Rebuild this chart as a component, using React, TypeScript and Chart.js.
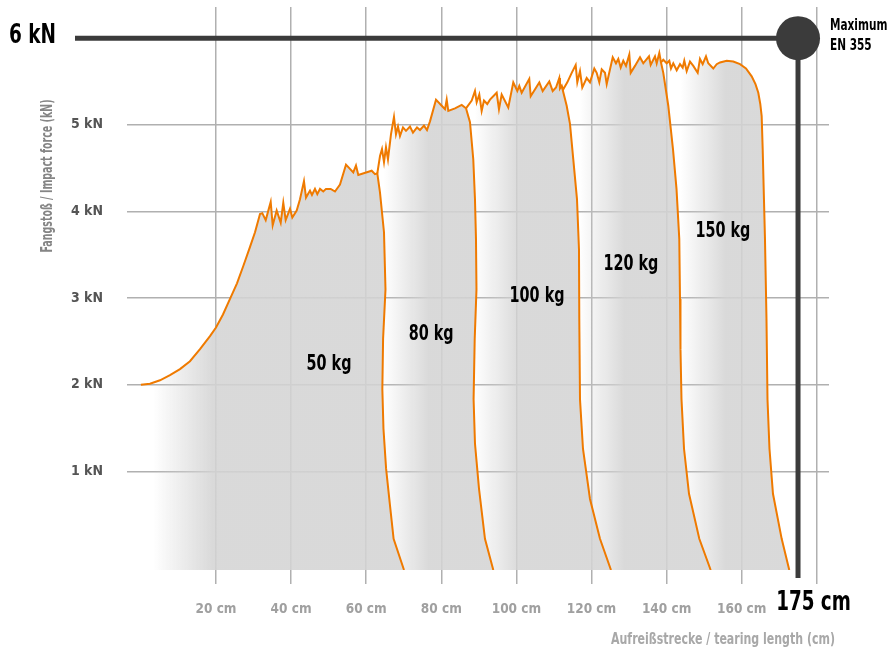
import React, { useEffect, useRef } from 'react';
import { Chart, registerables } from 'chart.js';

Chart.register(...registerables);

type P = [number, number];

// ---- axes ----
const X_MIN = -3.7;
const X_MAX = 183.25;
const Y_MIN = -0.14;
const Y_MAX = 6.36;
const X_TICKS = [20, 40, 60, 80, 100, 120, 140, 160, 180];
const X_LABELED_MAX = 160;
const Y_TICKS = [1, 2, 3, 4, 5];
const X_TITLE = 'Aufreißstrecke / tearing length (cm)';
const Y_TITLE = 'Fangstoß / Impact force (kN)';

// ---- limits (EN 355) ----
const MAX_FORCE = 6;
const MAX_LENGTH = 175;
const LIMIT_TEXT = ['Maximum', 'EN 355'];

// ---- series labels ----
const MASSES = ['50 kg', '80 kg', '100 kg', '120 kg', '150 kg'];
const LABEL_X = [50.1, 77.3, 105.5, 130.5, 155.0];
const LABEL_Y = [2.23, 2.58, 3.01, 3.39, 3.77];

// ---- force curves (cm, kN): top trace and the falling edge ----
const TOP_50: P[] = [
  [0, 2.0], [2.42, 2.01], [5.09, 2.05], [7.75, 2.11], [10.41, 2.18], [13.07, 2.27], [15.74, 2.41],
  [18.4, 2.56], [20.0, 2.66], [21.86, 2.81], [23.73, 2.99], [25.59, 3.17], [27.27, 3.37], [29.06, 3.59],
  [30.39, 3.76], [31.72, 3.97], [32.33, 3.98], [33.24, 3.9], [34.57, 4.11], [35.1, 3.84], [36.16, 4.01],
  [37.23, 3.87], [37.92, 4.1], [38.56, 3.9], [39.71, 4.03], [40.32, 3.93], [41.49, 4.01], [42.37, 4.14],
  [43.43, 4.35], [43.97, 4.16], [45.03, 4.24], [45.56, 4.19], [46.36, 4.26], [46.98, 4.2], [47.7, 4.26],
  [48.57, 4.23], [49.29, 4.26], [50.55, 4.26], [51.69, 4.23], [53.02, 4.31], [54.62, 4.54], [56.56, 4.45],
  [57.28, 4.53], [57.9, 4.42], [61.46, 4.47], [62.34, 4.43], [62.96, 4.44],
];
const EDGE_50: P[] = [
  [63.67, 4.22], [64.74, 3.76], [65.14, 3.1], [64.5, 2.53], [64.3, 1.95], [64.6, 1.49], [65.3, 1.03],
  [66.3, 0.62], [67.3, 0.22], [70.07, -0.14],
];

const TOP_80: P[] = [
  [62.96, 4.44], [63.68, 4.64], [64.21, 4.72], [64.74, 4.57], [65.27, 4.74], [65.8, 4.6], [66.6, 4.89],
  [67.4, 5.09], [67.93, 4.89], [68.47, 4.98], [69.0, 4.87], [69.8, 4.97], [70.6, 4.93], [71.66, 4.98],
  [72.46, 4.91], [73.53, 4.97], [74.33, 4.94], [75.39, 4.99], [76.19, 4.94], [76.99, 5.04], [78.59, 5.29],
  [80.11, 5.22], [80.99, 5.18], [81.44, 5.29], [81.86, 5.16], [83.65, 5.19], [85.43, 5.23], [86.58, 5.19],
];
const EDGE_80: P[] = [
  [87.64, 5.03], [88.52, 4.6], [88.97, 4.14], [89.24, 3.68], [89.37, 3.1], [88.9, 2.53], [88.6, 1.83],
  [88.97, 1.32], [90.04, 0.8], [91.63, 0.22], [93.85, -0.14],
];

const TOP_100: P[] = [
  [86.58, 5.19], [88.1, 5.28], [88.97, 5.39], [89.42, 5.26], [90.12, 5.35], [90.75, 5.16], [91.37, 5.28],
  [92.24, 5.24], [92.97, 5.29], [94.75, 5.37], [95.36, 5.18], [96.08, 5.35], [97.84, 5.2], [99.17, 5.49],
  [100.24, 5.39], [100.77, 5.45], [101.41, 5.37], [103.43, 5.53], [103.81, 5.33], [106.1, 5.49],
  [107.0, 5.39], [108.76, 5.5], [109.67, 5.39], [110.55, 5.43], [111.42, 5.54], [111.61, 5.42], [112.06, 5.45],
];
const EDGE_100: P[] = [
  [113.39, 5.22], [114.27, 5.01], [115.15, 4.6], [116.14, 4.14], [116.67, 3.56], [116.75, 2.76],
  [116.94, 1.83], [117.73, 1.26], [119.6, 0.68], [122.26, 0.22], [125.19, -0.14],
];

const TOP_120: P[] = [
  [112.06, 5.45], [112.49, 5.41], [113.56, 5.49], [114.73, 5.6], [115.79, 5.69], [116.22, 5.49],
  [116.94, 5.62], [117.55, 5.43], [118.72, 5.54], [119.6, 5.49], [120.75, 5.65], [121.38, 5.6],
  [122.08, 5.49], [122.72, 5.64], [123.59, 5.6], [124.05, 5.47], [125.65, 5.78], [126.52, 5.71],
  [127.14, 5.76], [127.78, 5.66], [128.47, 5.74], [129.19, 5.68], [130.07, 5.81], [130.44, 5.6],
  [131.58, 5.68], [132.92, 5.78], [133.79, 5.71], [135.31, 5.79], [135.76, 5.69], [136.91, 5.79],
  [137.36, 5.71], [138.06, 5.83], [138.51, 5.72],
];
const EDGE_120: P[] = [
  [139.12, 5.6], [140.45, 5.22], [141.7, 4.72], [142.64, 4.26], [143.38, 3.68], [143.57, 2.99],
  [143.7, 2.41], [143.97, 1.83], [144.64, 1.26], [145.97, 0.74], [148.71, 0.22], [151.74, -0.14],
];

const TOP_150: P[] = [
  [138.51, 5.72], [139.12, 5.75], [140.02, 5.71], [140.72, 5.74], [141.17, 5.65], [141.78, 5.71],
  [142.69, 5.63], [143.57, 5.7], [144.28, 5.66], [144.71, 5.74], [145.35, 5.62], [146.23, 5.73],
  [147.11, 5.68], [148.28, 5.6], [148.89, 5.76], [149.61, 5.7], [150.49, 5.79], [151.1, 5.71],
  [152.43, 5.65], [153.34, 5.7], [154.22, 5.72], [156.0, 5.74], [157.76, 5.73], [159.55, 5.7],
  [161.14, 5.65], [162.66, 5.56], [163.67, 5.47],
];
const EDGE_150: P[] = [
  [164.42, 5.37], [164.95, 5.24], [165.32, 5.1], [165.59, 4.72], [165.93, 4.14], [166.2, 3.68],
  [166.6, 2.76], [166.87, 1.83], [167.4, 1.26], [168.33, 0.74], [170.65, 0.22], [172.67, -0.14],
];

const TOPS = [TOP_50, TOP_80, TOP_100, TOP_120, TOP_150];
const EDGES = [EDGE_50, EDGE_80, EDGE_100, EDGE_120, EDGE_150];

// ---- style ----
const FONT = '"DejaVu Sans Condensed", "Liberation Sans Narrow", "DejaVu Sans", sans-serif';
const ORANGE = '#ef7a00';
const GRID = '#b0b0b0';
const DARK = '#3b3b3b';

const toXY = (pts: P[]) => pts.map(([x, y]) => ({ x, y }));

function drawText(
  ctx: CanvasRenderingContext2D,
  text: string,
  x: number,
  y: number,
  size: number,
  align: CanvasTextAlign,
  color: string,
  sx: number,
  rotate = 0,
) {
  ctx.save();
  ctx.font = `bold ${size}px ${FONT}`;
  ctx.fillStyle = color;
  ctx.textBaseline = 'middle';
  ctx.textAlign = align;
  ctx.translate(x, y);
  if (rotate) ctx.rotate(rotate);
  ctx.scale(sx, 1);
  ctx.fillText(text, 0, 0);
  ctx.restore();
}

function fitScale(ctx: CanvasRenderingContext2D, text: string, size: number, target: number) {
  ctx.save();
  ctx.font = `bold ${size}px ${FONT}`;
  const w = ctx.measureText(text).width;
  ctx.restore();
  return w > 0 ? target / w : 1;
}

export default function App() {
  const ref = useRef<HTMLCanvasElement>(null);

  useEffect(() => {
    const canvas = ref.current;
    if (!canvas) return;

    const fillSets = TOPS.map((top, i) => {
      const left: P[] = i === 0 ? [[top[0][0], Y_MIN]] : EDGES[i - 1].slice().reverse();
      const poly = [...left, ...top, ...EDGES[i]];
      return {
        type: 'line',
        data: toXY(poly),
        order: 2,
        borderWidth: 0,
        borderColor: 'rgba(0,0,0,0)',
        pointRadius: 0,
        tension: 0,
        fill: 'shape',
        backgroundColor: (c: any) => {
          const chart = c.chart;
          const xs = chart.scales && chart.scales.x;
          if (!xs || !chart.chartArea) return 'rgba(210,210,210,0.85)';
          let x0: number;
          let len: number;
          if (i === 0) {
            x0 = xs.getPixelForValue(top[0][0]) + 12;
            len = 60;
          } else {
            const e = EDGES[i - 1];
            x0 = xs.getPixelForValue(e[Math.floor(e.length / 2)][0]);
            len = 45;
          }
          const g = chart.ctx.createLinearGradient(x0, 0, x0 + len, 0);
          g.addColorStop(0, 'rgba(212,212,212,0)');
          g.addColorStop(1, 'rgba(212,212,212,0.88)');
          return g;
        },
      };
    });

    const lineSets = TOPS.map((top, i) => ({
      type: 'line',
      data: toXY([...top, ...EDGES[i]]),
      order: 0,
      borderColor: ORANGE,
      borderWidth: 2,
      pointRadius: 0,
      tension: 0,
      fill: false,
    }));

    const overlay = {
      id: 'overlay',
      afterDatasetsDraw(chart: any) {
        const { ctx, chartArea } = chart;
        const x = chart.scales.x;
        const y = chart.scales.y;
        const px = x.getPixelForValue(MAX_LENGTH);
        const py = y.getPixelForValue(MAX_FORCE);
        ctx.save();
        ctx.strokeStyle = DARK;
        ctx.lineWidth = 5;
        ctx.beginPath();
        ctx.moveTo(75, py);
        ctx.lineTo(px, py);
        ctx.stroke();
        ctx.beginPath();
        ctx.moveTo(px, py);
        ctx.lineTo(px, chartArea.bottom + 8);
        ctx.stroke();
        ctx.fillStyle = DARK;
        ctx.beginPath();
        ctx.arc(px, py, 22, 0, Math.PI * 2);
        ctx.fill();
        ctx.restore();

        drawText(ctx, `${MAX_FORCE} kN`, 9, py - 2, 27, 'left', '#000', 0.76);
        drawText(ctx, LIMIT_TEXT[0], 830, 26, 15, 'left', '#000', 0.78);
        drawText(ctx, LIMIT_TEXT[1], 830, 46, 15, 'left', '#000', 0.78);
        drawText(ctx, `${MAX_LENGTH} cm`, 813.5, 603, 26.5, 'center', '#000', 0.77);

        MASSES.forEach((m, i) => {
          drawText(ctx, m, x.getPixelForValue(LABEL_X[i]), y.getPixelForValue(LABEL_Y[i]), 20.5, 'center', '#000', 0.78);
        });

        const sy = fitScale(ctx, Y_TITLE, 15.5, 153);
        drawText(ctx, Y_TITLE, 48, 176, 15.5, 'center', '#858585', sy, -Math.PI / 2);
        const sxT = fitScale(ctx, X_TITLE, 16, 224);
        drawText(ctx, X_TITLE, 835, 640, 16, 'right', '#a8a8a8', sxT);
      },
    };

    const chart = new Chart(canvas, {
      type: 'line',
      data: { datasets: [...lineSets, ...fillSets] as any },
      options: {
        responsive: false,
        devicePixelRatio: 1,
        animation: false,
        events: [],
        layout: { padding: { left: 0, right: 61, top: 7, bottom: 0 } },
        plugins: { legend: { display: false }, tooltip: { enabled: false } },
        scales: {
          x: {
            type: 'linear',
            min: X_MIN,
            max: X_MAX,
            afterBuildTicks: (s: any) => {
              s.ticks = X_TICKS.map((v) => ({ value: v }));
            },
            afterFit: (s: any) => {
              s.height = 80;
              s.paddingLeft = 0;
              s.paddingRight = 0;
            },
            grid: { color: GRID, lineWidth: 1.5, drawTicks: true, tickLength: 14, tickColor: GRID },
            border: { display: false },
            ticks: {
              autoSkip: false,
              maxRotation: 0,
              padding: 17,
              color: '#a0a0a0',
              font: { family: FONT, size: 13.5, weight: 'bold' },
              callback: (v: any) => (Number(v) <= X_LABELED_MAX ? `${v} cm` : ''),
            },
          },
          y: {
            type: 'linear',
            min: Y_MIN,
            max: Y_MAX,
            afterBuildTicks: (s: any) => {
              s.ticks = Y_TICKS.map((v) => ({ value: v }));
            },
            afterFit: (s: any) => {
              s.width = 127;
              s.paddingTop = 0;
              s.paddingBottom = 0;
            },
            grid: { color: GRID, lineWidth: 1.5, drawTicks: false },
            border: { display: false },
            ticks: {
              padding: 24,
              color: '#555555',
              font: { family: FONT, size: 14, weight: 'bold' },
              callback: (v: any) => `${v} kN`,
            },
          },
        },
      } as any,
      plugins: [overlay],
    });

    return () => chart.destroy();
  }, []);

  return (
    <div style={{ position: 'absolute', left: 0, top: 0, width: 890, height: 650, background: '#fff' }}>
      <canvas ref={ref} width={890} height={650} style={{ display: 'block' }} />
    </div>
  );
}
